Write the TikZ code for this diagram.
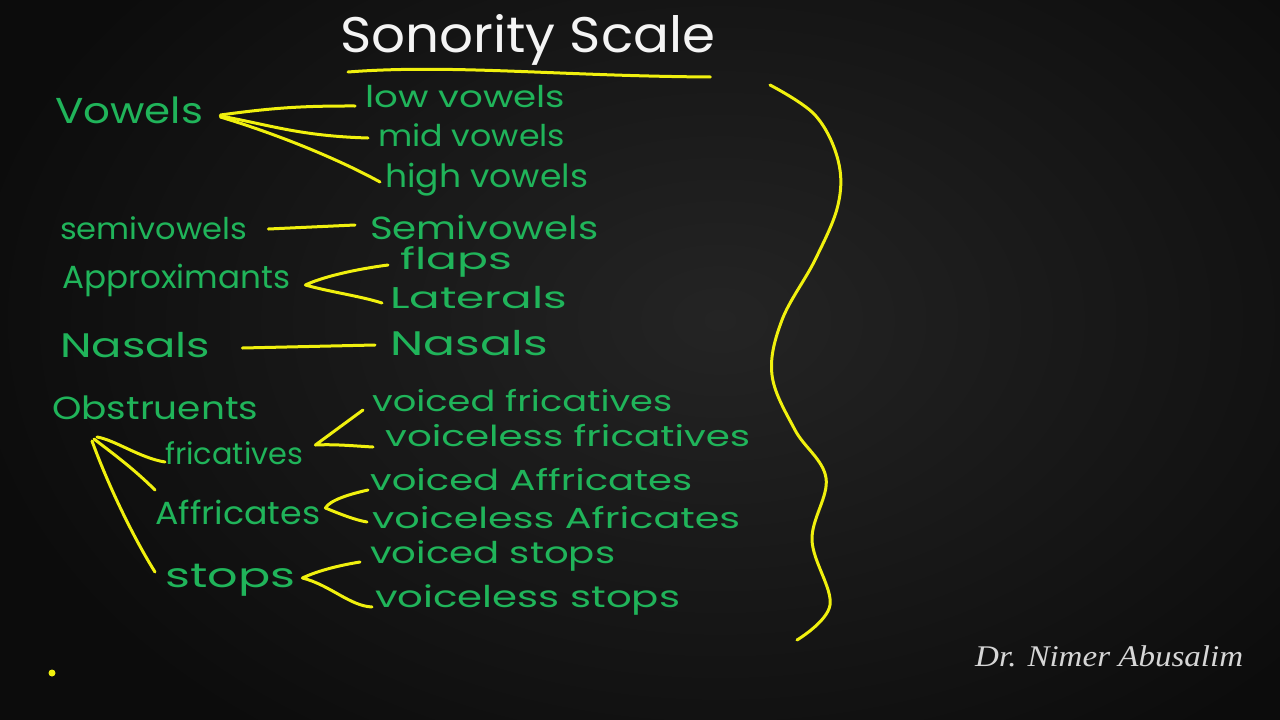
\documentclass[tikz,border=0pt]{standalone}
\usepackage{fontspec}
\setmainfont{Poppins}
\newfontfamily\sigfont{Liberation Serif}
\usepackage{graphicx}
\definecolor{bgdark}{HTML}{0C0C0C}
\definecolor{bgmid}{HTML}{242424}
\definecolor{hwgreen}{HTML}{20B45A}
\definecolor{hwyellow}{HTML}{F0F00E}
\definecolor{hwwhite}{HTML}{F4F4F4}
\definecolor{siggray}{HTML}{D6D6D6}
% width-fitted text at a fixed font size (height kept)
\newcommand\hwtext[3]{\resizebox{#1pt}{\height}{\fontsize{#2pt}{#2pt}\selectfont #3}}
\tikzset{
  hw/.style={anchor=west, inner sep=0pt, text=hwgreen},
  ttl/.style={anchor=west, inner sep=0pt, text=hwwhite},
  yl/.style={draw=hwyellow, line width=3pt, line cap=round, line join=round},
}
\begin{document}
\begin{tikzpicture}[x=1pt,y=-1pt]
\useasboundingbox (0,0) rectangle (1280,720);
\begin{scope}
\clip (0,0) rectangle (1280,720);
\fill[bgdark] (0,0) rectangle (1280,720);
\shade[inner color=bgmid, outer color=bgdark] (720,320) ellipse (760 and 520);
\end{scope}
% title
\node[ttl] (title) at (340,40) {\hwtext{375}{50}{Sonority Scale}};
\draw[yl] ([shift={(8,32)}]title.west) .. controls (450,64) and (560,76) .. ([shift={(-5,37)}]title.east);
% left column
\node[hw] (vowels) at (55,110) {\hwtext{148}{36}{Vowels}};
\node[hw] (semiL) at (60,228) {\hwtext{187}{30}{semivowels}};
\node[hw] (approx) at (62,280) {\hwtext{228}{32}{Approximants}};
\node[hw] (nasalsL) at (60,345) {\hwtext{150}{34}{Nasals}};
\node[hw] (obstr) at (52,408) {\hwtext{206}{32}{Obstruents}};
\node[hw] (fric) at (165,453) {\hwtext{138}{30}{fricatives}};
\node[hw] (affr) at (155,512) {\hwtext{165}{32}{Affricates}};
\node[hw] (stops) at (165,580) {\hwtext{130}{34}{stops}};
% right column
\node[hw] (low) at (365,97) {\hwtext{200}{30}{low vowels}};
\node[hw] (mid) at (378,135) {\hwtext{187}{30}{mid vowels}};
\node[hw] (high) at (385,180) {\hwtext{203}{32}{high vowels}};
\node[hw] (semiR) at (370,227) {\hwtext{228}{32}{Semivowels}};
\node[hw] (flaps) at (400,262) {\hwtext{112}{30}{flaps}};
\node[hw] (laterals) at (390,298) {\hwtext{177}{30}{Laterals}};
\node[hw] (nasalsR) at (390,343) {\hwtext{158}{34}{Nasals}};
\node[hw] (vfric) at (372,401) {\hwtext{300}{29}{voiced fricatives}};
\node[hw] (vlfric) at (385,436) {\hwtext{365}{29}{voiceless fricatives}};
\node[hw] (vaffr) at (370,480) {\hwtext{322}{29}{voiced Affricates}};
\node[hw] (vlaffr) at (372,518) {\hwtext{368}{29}{voiceless Africates}};
\node[hw] (vstops) at (370,556) {\hwtext{245}{30}{voiced stops}};
\node[hw] (vlstops) at (375,600) {\hwtext{305}{30}{voiceless stops}};
% signature
\node[anchor=west, inner sep=0pt, text=siggray] (sig) at (975,656) {\hwtext{268}{30}{\sigfont\itshape Dr. Nimer Abusalim}};
% connectors: vowels
\draw[yl] ([shift={(17,5)}]vowels.east) to[bend left=4] ([shift={(-10,9)}]low.west);
\draw[yl] ([shift={(17,6)}]vowels.east) .. controls (270,125) and (300,136) .. ([shift={(-10,3)}]mid.west);
\draw[yl] ([shift={(17,7)}]vowels.east) .. controls (280,135) and (340,160) .. ([shift={(-5,2)}]high.west);
% semivowels, nasals
\draw[yl] ([shift={(21,1)}]semiL.east) -- ([shift={(-15,-2)}]semiR.west);
\draw[yl] ([shift={(32,3)}]nasalsL.east) -- ([shift={(-15,2)}]nasalsR.west);
% approximants fork
\draw[yl] ([shift={(-12,3)}]flaps.west) .. controls (350,270) and (320,278) .. ([shift={(15,5)}]approx.east) .. controls (330,292) and (360,296) .. ([shift={(-8,5)}]laterals.west);
% fricatives fork
\draw[yl] ([shift={(-9,9)}]vfric.west) -- ([shift={(12,-8)}]fric.east) .. controls (335,444) and (355,446) .. ([shift={(-12,11)}]vlfric.west);
% affricates fork
\draw[yl] ([shift={(-2,10)}]vaffr.west) .. controls (350,494) and (330,500) .. ([shift={(5,-4)}]affr.east) .. controls (340,514) and (355,520) .. ([shift={(-5,4)}]vlaffr.west);
% stops fork
\draw[yl] ([shift={(-10,6)}]vstops.west) .. controls (335,566) and (315,572) .. ([shift={(7,-2)}]stops.east) .. controls (330,585) and (350,606) .. ([shift={(-3,7)}]vlstops.west);
% obstruents fan
\draw[yl] ([shift={(45,29)}]obstr.west) .. controls (115,440) and (140,458) .. ([shift={(0,9)}]fric.west);
\draw[yl] ([shift={(42,31)}]obstr.west) .. controls (115,455) and (135,470) .. ([shift={(0,-22)}]affr.west);
\draw[yl] ([shift={(40,33)}]obstr.west) .. controls (110,490) and (135,540) .. ([shift={(-10,-8)}]stops.west);
% big wavy bracket
\draw[yl] plot[smooth, tension=0.6] coordinates {(770,85) (815,115) (838,160) (838,205) (815,260) (782,320) (772,375) (795,430) (826,478) (812,540) (830,605) (797,640)};
% small dot
\fill[hwyellow] (52,673) circle (3.5);
\end{tikzpicture}
\end{document}
